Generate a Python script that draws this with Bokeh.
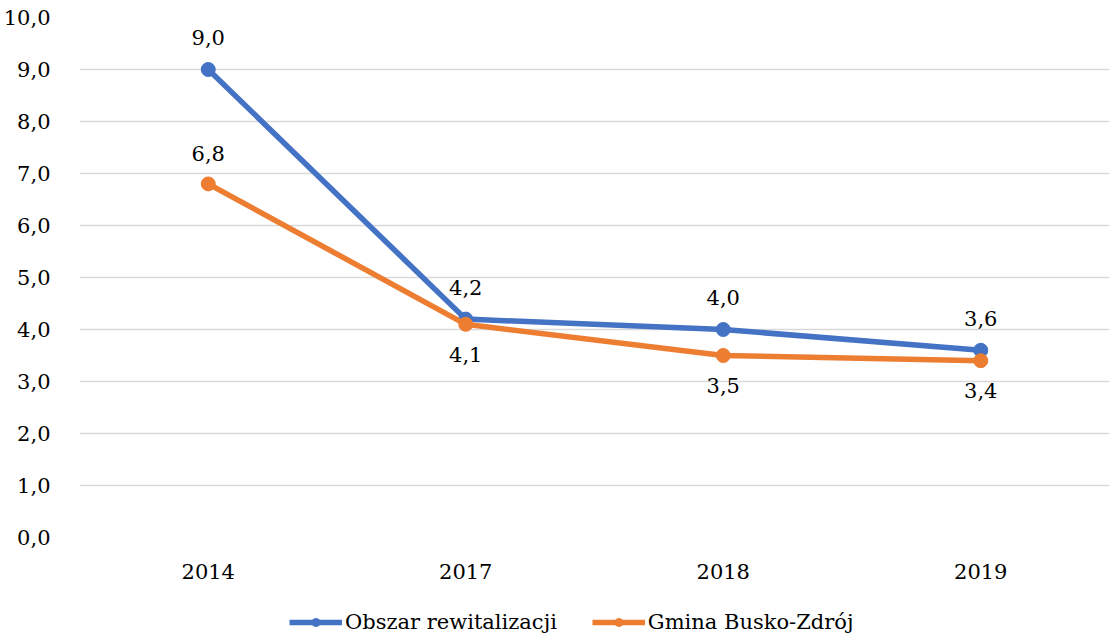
from bokeh.plotting import figure
from bokeh.layouts import column
from bokeh.models import Range1d, FactorRange, FixedTicker, Legend, LegendItem, ColumnDataSource
from bokeh.core.properties import value
from bokeh.embed import file_html
from bokeh.resources import INLINE

years = ["2014", "2017", "2018", "2019"]
obszar = [9.0, 4.2, 4.0, 3.6]
gmina = [6.8, 4.1, 3.5, 3.4]
gmina_label_pos = ["above", "below", "below", "below"]
series_names = ["Obszar rewitalizacji", "Gmina Busko-Zdrój"]
y_ticks = [0, 1, 2, 3, 4, 5, 6, 7, 8, 9, 10]

def fmt(v):
    return f"{v:.1f}".replace(".", ",")

BLUE = "#4472C4"
ORANGE = "#ED7D31"
FONT = "DejaVu Serif"
FS = "21px"

p = figure(x_range=FactorRange(*years), y_range=Range1d(0, 10),
           frame_width=1030, frame_height=520,
           min_border_left=78, min_border_right=0, min_border_top=17, min_border_bottom=53,
           output_backend="svg", toolbar_location=None)
p.outline_line_color = None
p.background_fill_color = "white"
p.border_fill_color = "white"

p.yaxis.ticker = FixedTicker(ticks=y_ticks)
p.yaxis.major_label_overrides = {t: fmt(t) for t in y_ticks}
for ax in (p.xaxis[0], p.yaxis[0]):
    ax.axis_line_color = None
    ax.major_tick_line_color = None
    ax.minor_tick_line_color = None
    ax.major_label_text_font = FONT
    ax.major_label_text_font_size = FS
    ax.major_label_text_color = "black"
p.yaxis.major_label_standoff = 23
p.xaxis.major_label_standoff = 20

p.xgrid.grid_line_color = None
p.ygrid.grid_line_color = "#D9D9D9"
p.ygrid.grid_line_width = 1.5

p.line(years, obszar, line_color=BLUE, line_width=5.5)
p.scatter(years, obszar, size=14, fill_color=BLUE, line_color=BLUE)
p.line(years, gmina, line_color=ORANGE, line_width=5.5)
p.scatter(years, gmina, size=14, fill_color=ORANGE, line_color=ORANGE)

src1 = ColumnDataSource(dict(x=years, y=obszar, t=[fmt(v) for v in obszar]))
p.text(x="x", y="y", text="t", source=src1, text_align="center", text_baseline="middle",
       y_offset=-32, text_font=value(FONT), text_font_size=FS, text_color="black")

up = [i for i, pos in enumerate(gmina_label_pos) if pos == "above"]
dn = [i for i, pos in enumerate(gmina_label_pos) if pos == "below"]
src2a = ColumnDataSource(dict(x=[years[i] for i in up], y=[gmina[i] for i in up], t=[fmt(gmina[i]) for i in up]))
src2b = ColumnDataSource(dict(x=[years[i] for i in dn], y=[gmina[i] for i in dn], t=[fmt(gmina[i]) for i in dn]))
p.text(x="x", y="y", text="t", source=src2a, text_align="center", text_baseline="middle",
       y_offset=-30, text_font=value(FONT), text_font_size=FS, text_color="black")
p.text(x="x", y="y", text="t", source=src2b, text_align="center", text_baseline="middle",
       y_offset=30, text_font=value(FONT), text_font_size=FS, text_color="black")

# legend strip below the chart (series drawn out of its visible range, only the legend shows)
lf = figure(width=1108, height=49, x_range=p.x_range, y_range=Range1d(20, 21),
            x_axis_type=None, y_axis_type=None,
            min_border_left=0, min_border_right=0, min_border_top=0, min_border_bottom=0,
            output_backend="svg", toolbar_location=None)
lf.outline_line_color = None
lf.xgrid.grid_line_color = None
lf.ygrid.grid_line_color = None
lf.border_fill_color = "white"
items = []
for name, col, vals in zip(series_names, [BLUE, ORANGE], [obszar, gmina]):
    lr = lf.line(years, vals, line_color=col, line_width=5.5)
    sr = lf.scatter(years, vals, size=14, fill_color=col, line_color=col)
    items.append(LegendItem(label=name, renderers=[lr, sr]))

legend = Legend(items=items, orientation="horizontal", location=(210, 5),
                label_text_font=FONT, label_text_font_size=FS, label_text_color="black",
                glyph_width=53, glyph_height=20, label_standoff=3, spacing=35,
                padding=0, margin=0, border_line_color=None, background_fill_alpha=0)
lf.add_layout(legend, "center")

open("out.html", "w").write(file_html(column(p, lf), INLINE))
